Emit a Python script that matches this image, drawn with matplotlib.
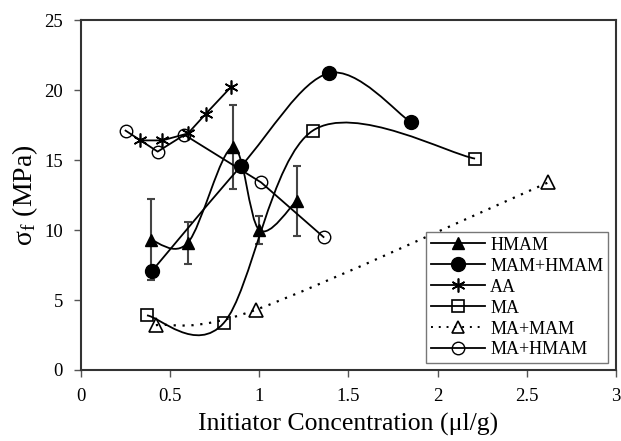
import matplotlib
matplotlib.use('Agg')
import matplotlib.pyplot as plt
from matplotlib.path import Path
from matplotlib.patches import PathPatch
from matplotlib.lines import Line2D
import numpy as np

plt.rcParams['font.family'] = ['Liberation Serif', 'DejaVu Serif']
plt.rcParams['mathtext.fontset'] = 'stix'

# data
hmam_x = [0.39, 0.60, 0.85, 1.00, 1.21]
hmam_y = [9.3, 9.1, 15.9, 10.0, 12.1]
hmam_err = [2.9, 1.5, 3.0, 1.0, 2.5]

mamhmam_x = [0.40, 0.90, 1.39, 1.85]
mamhmam_y = [7.1, 14.6, 21.2, 17.7]

aa_x = [0.33, 0.456, 0.60, 0.70, 0.84]
aa_y = [16.4, 16.4, 16.9, 18.3, 20.2]

ma_x = [0.37, 0.80, 1.30, 2.21]
ma_y = [3.9, 3.35, 17.1, 15.1]

mamam_x = [0.42, 0.98, 2.62]
mamam_y = [3.2, 4.3, 13.4]

mahmam_x = [0.25, 0.43, 0.58, 1.01, 1.36]
mahmam_y = [17.1, 15.6, 16.8, 13.4, 9.5]


def smooth_curve(x, y):
    # excel style smoothed line: bezier segments with catmull-rom controls
    p = np.column_stack([x, y]).astype(float)
    n = len(p)
    verts = [p[0]]
    codes = [Path.MOVETO]
    for i in range(n - 1):
        p0 = p[i - 1] if i > 0 else p[i]
        p3 = p[i + 2] if i + 2 < n else p[i + 1]
        c1 = p[i] + (p[i + 1] - p0) / 6.0
        c2 = p[i + 1] - (p3 - p[i]) / 6.0
        verts += [c1, c2, p[i + 1]]
        codes += [Path.CURVE4] * 3
    return Path(verts, codes)


fig = plt.figure(figsize=(6.21, 4.41), dpi=100)
ax = fig.add_axes([0.1304, 0.161, 0.8615, 0.7936])

lw = 1.3
# lines
ax.add_patch(PathPatch(smooth_curve(hmam_x, hmam_y), fill=False, lw=lw, ec='black', zorder=2))
ax.add_patch(PathPatch(smooth_curve(mamhmam_x, mamhmam_y), fill=False, lw=lw, ec='black', zorder=2))
ax.add_patch(PathPatch(smooth_curve(ma_x, ma_y), fill=False, lw=lw, ec='black', zorder=2))
ax.add_patch(PathPatch(smooth_curve(mamam_x, mamam_y), fill=False, lw=1.6, ec='black',
                       ls=(0, (1, 3)), zorder=2))
ax.plot(aa_x, aa_y, '-', color='black', lw=lw, zorder=2)
ax.plot(mahmam_x, mahmam_y, '-', color='black', lw=lw, zorder=2)

# error bars
ax.errorbar(hmam_x, hmam_y, yerr=hmam_err, fmt='none', ecolor='#444444',
            elinewidth=1.5, capsize=3, capthick=1.5, zorder=1)

# markers
ax.plot(hmam_x, hmam_y, ls='none', marker='^', ms=9, color='black', zorder=4)
ax.plot(mamhmam_x, mamhmam_y, ls='none', marker='o', ms=10, color='black', zorder=4)
ax.plot(aa_x, aa_y, ls='none', marker=(6, 2, 0), ms=10, mew=1.2, color='black', zorder=4)
ax.plot(ma_x, ma_y, ls='none', marker='s', ms=9, mfc='none', mec='black', mew=1.2, zorder=4)
ax.plot(mamam_x, mamam_y, ls='none', marker='^', ms=10, mfc='none', mec='black', mew=1.2, zorder=4)
ax.plot(mahmam_x, mahmam_y, ls='none', marker='o', ms=9, mfc='none', mec='black', mew=1.0, zorder=4)

ax.set_xlim(0, 3)
ax.set_ylim(0, 25)
ax.set_xticks([0, 0.5, 1, 1.5, 2, 2.5, 3])
ax.set_xticklabels(['0', '0.5', '1', '1.5', '2', '2.5', '3'])
ax.set_yticks([0, 5, 10, 15, 20, 25])
ax.tick_params(direction='out', length=5, width=1, color='#555555', labelsize=13.5, pad=8)
for s in ax.spines.values():
    s.set_linewidth(1.5)
    s.set_color('#333333')

ax.set_xlabel('Initiator Concentration (\u03bcl/g)', fontsize=18.5, labelpad=6)
ax.set_ylabel('\u03c3$_\\mathregular{f}$ (MPa)', fontsize=20, labelpad=3)

handles = [
    Line2D([], [], color='black', lw=lw, marker='^', ms=9),
    Line2D([], [], color='black', lw=lw, marker='o', ms=10),
    Line2D([], [], color='black', lw=lw, marker=(6, 2, 0), ms=10, mew=1.2),
    Line2D([], [], color='black', lw=lw, marker='s', ms=8, mfc='none', mew=1.2),
    Line2D([], [], color='black', lw=1.4, ls=(0, (1, 3)), marker='^', ms=9, mfc='none', mew=1.2),
    Line2D([], [], color='black', lw=lw, marker='o', ms=9, mfc='none'),
]
labels = ['HMAM', 'MAM+HMAM', 'AA', 'MA', 'MA+MAM', 'MA+HMAM']
leg = ax.legend(handles, labels, loc='lower right', bbox_to_anchor=(0.985, 0.02),
                fontsize=13, handlelength=3, fancybox=False, framealpha=1,
                borderpad=0.25, labelspacing=0.22, handletextpad=0.3, borderaxespad=0)
leg.get_frame().set_edgecolor('#777777')
leg.get_frame().set_linewidth(1.0)

fig.savefig('out.png', dpi=100)
